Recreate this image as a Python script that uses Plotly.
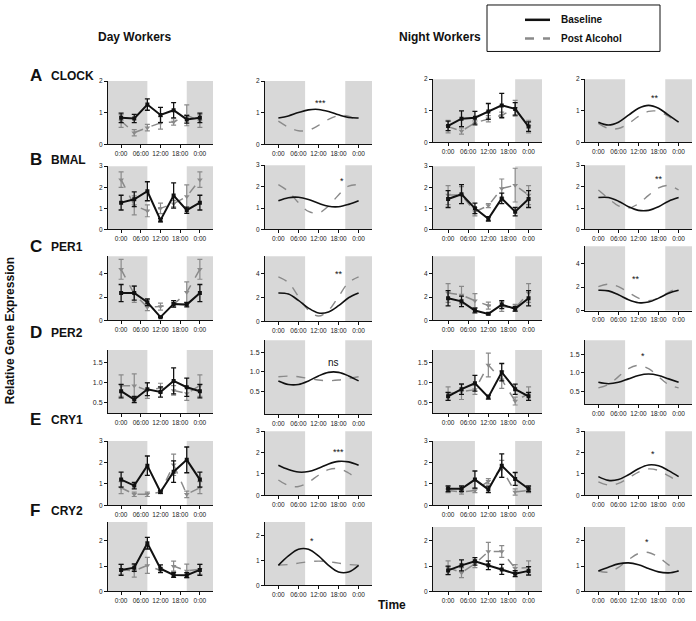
import plotly.graph_objects as go

W, H = 696, 621

GENES = ["CLOCK", "BMAL", "PER1", "PER2", "CRY1", "CRY2"]
LETTERS = ["A", "B", "C", "D", "E", "F"]
HOURS_RAW = [0, 4, 8, 12, 16, 20, 24]
HOURS_FIT = [0, 3, 6, 9, 12, 15, 18, 21, 24]
X_TICKS = [0, 6, 12, 18, 24]
X_TICK_LABELS = ["0:00", "06:00", "12:00", "18:00", "0:00"]
Y_TICKS = [[0, 1, 2], [0, 1, 2, 3], [0, 2, 4], [0.5, 1.0, 1.5], [0, 1, 2, 3], [0, 1, 2]]
Y_TICK_LABELS = [["0", "1", "2"], ["0", "1", "2", "3"], ["0", "2", "4"],
                 ["0.5", "1.0", "1.5"], ["0", "1", "2", "3"], ["0", "1", "2"]]
DARK_START, DARK_END = 8, 20

# ---- Day workers, measured means and SEM (CLOCK, BMAL, PER1, PER2, CRY1, CRY2)
day_base_mean = [
    [0.84, 0.82, 1.26, 0.93, 1.08, 0.79, 0.84],
    [1.27, 1.43, 1.81, 0.44, 1.61, 0.91, 1.27],
    [2.34, 2.34, 1.55, 0.28, 1.41, 1.35, 2.34],
    [0.78, 0.57, 0.83, 0.76, 1.04, 0.88, 0.78],
    [1.20, 0.92, 1.85, 0.62, 1.57, 2.12, 1.20],
    [0.85, 0.94, 1.91, 0.90, 0.65, 0.64, 0.85],
]
day_base_sem = [
    [0.15, 0.13, 0.18, 0.24, 0.24, 0.12, 0.15],
    [0.35, 0.35, 0.45, 0.08, 0.60, 0.15, 0.35],
    [0.73, 0.60, 0.28, 0.05, 0.28, 0.20, 0.73],
    [0.17, 0.08, 0.16, 0.13, 0.33, 0.23, 0.17],
    [0.35, 0.15, 0.45, 0.05, 0.50, 0.60, 0.35],
    [0.22, 0.15, 0.23, 0.15, 0.10, 0.10, 0.22],
]
day_post_mean = [
    [0.74, 0.37, 0.53, 0.68, 0.71, 0.92, 0.74],
    [2.36, 1.14, 0.88, 1.00, 1.22, 1.56, 2.36],
    [4.37, 2.25, 1.13, 1.18, 1.35, 2.40, 4.37],
    [0.92, 0.92, 0.80, 0.86, 0.80, 0.72, 0.92],
    [0.82, 0.51, 0.51, 0.62, 1.89, 0.51, 0.82],
    [0.87, 0.81, 1.03, 0.83, 1.00, 0.81, 0.87],
]
day_post_sem = [
    [0.20, 0.10, 0.10, 0.20, 0.10, 0.33, 0.20],
    [0.37, 0.45, 0.28, 0.25, 0.15, 0.55, 0.37],
    [0.85, 0.70, 0.30, 0.30, 0.20, 0.90, 0.85],
    [0.27, 0.30, 0.20, 0.12, 0.12, 0.17, 0.27],
    [0.28, 0.10, 0.10, 0.08, 0.50, 0.15, 0.28],
    [0.20, 0.25, 0.32, 0.10, 0.20, 0.27, 0.20],
]

# ---- Night workers, measured means and SEM
night_base_mean = [
    [0.52, 0.75, 0.78, 0.98, 1.17, 1.06, 0.50],
    [1.44, 1.67, 1.00, 0.50, 1.47, 0.84, 1.44],
    [1.89, 1.63, 0.85, 0.56, 1.35, 0.99, 1.89],
    [0.65, 0.83, 0.98, 0.63, 1.26, 0.83, 0.65],
    [0.77, 0.77, 1.20, 0.74, 1.85, 1.23, 0.77],
    [0.83, 1.03, 1.19, 1.03, 0.87, 0.70, 0.81],
]
night_base_sem = [
    [0.15, 0.25, 0.20, 0.25, 0.38, 0.20, 0.15],
    [0.40, 0.45, 0.25, 0.10, 0.25, 0.20, 0.40],
    [0.65, 0.45, 0.20, 0.08, 0.35, 0.20, 0.65],
    [0.10, 0.13, 0.20, 0.05, 0.22, 0.13, 0.10],
    [0.13, 0.13, 0.40, 0.15, 0.55, 0.30, 0.13],
    [0.17, 0.22, 0.15, 0.17, 0.20, 0.12, 0.17],
]
night_post_mean = [
    [0.50, 0.36, 0.62, 0.75, 0.86, 1.08, 0.50],
    [1.63, 1.63, 0.84, 1.13, 1.94, 2.10, 1.63],
    [2.34, 2.17, 1.69, 1.27, 1.18, 1.07, 2.34],
    [0.72, 0.77, 0.82, 1.44, 1.07, 0.53, 0.72],
    [0.69, 0.62, 0.69, 1.12, 1.70, 0.62, 0.69],
    [0.94, 0.74, 1.09, 1.58, 1.58, 0.91, 0.94],
]
night_post_sem = [
    [0.20, 0.10, 0.08, 0.10, 0.10, 0.25, 0.20],
    [0.45, 0.40, 0.20, 0.10, 0.45, 0.80, 0.45],
    [0.80, 0.75, 0.60, 0.30, 0.40, 0.30, 0.80],
    [0.17, 0.20, 0.12, 0.30, 0.22, 0.10, 0.17],
    [0.10, 0.10, 0.10, 0.12, 0.40, 0.15, 0.10],
    [0.27, 0.20, 0.15, 0.36, 0.23, 0.15, 0.27],
]

# ---- Cosinor fit curves at 3-hour steps
day_base_fit = [
    [0.835, 0.90, 1.006, 1.091, 1.105, 1.04, 0.934, 0.849, 0.835],
    [1.34, 1.48, 1.50, 1.40, 1.22, 1.08, 1.06, 1.17, 1.34],
    [2.39, 2.30, 1.77, 1.12, 0.71, 0.80, 1.32, 1.99, 2.39],
    [0.765, 0.673, 0.673, 0.765, 0.895, 0.987, 0.987, 0.895, 0.765],
    [1.41, 1.21, 1.09, 1.115, 1.27, 1.47, 1.59, 1.565, 1.41],
    [0.81, 1.19, 1.46, 1.46, 1.19, 0.81, 0.54, 0.54, 0.81],
]
day_post_fit = [
    [0.735, 0.545, 0.43, 0.45, 0.60, 0.79, 0.91, 0.89, 0.735],
    [2.09, 1.77, 1.25, 0.84, 0.77, 1.09, 1.61, 2.02, 2.09],
    [3.75, 3.27, 2.10, 0.93, 0.45, 0.93, 2.10, 3.27, 3.75],
    [0.872, 0.89, 0.872, 0.83, 0.788, 0.77, 0.788, 0.83, 0.872],
    [0.72, 0.46, 0.415, 0.615, 0.94, 1.20, 1.245, 1.045, 0.72],
    [0.82, 0.843, 0.90, 0.957, 0.98, 0.957, 0.90, 0.843, 0.82],
]
night_base_fit = [
    [0.64, 0.55, 0.64, 0.86, 1.08, 1.17, 1.08, 0.86, 0.64],
    [1.49, 1.49, 1.32, 1.06, 0.89, 0.89, 1.06, 1.32, 1.49],
    [1.73, 1.68, 1.34, 0.925, 0.67, 0.72, 1.06, 1.475, 1.73],
    [0.748, 0.71, 0.748, 0.84, 0.932, 0.97, 0.932, 0.84, 0.748],
    [0.875, 0.70, 0.74, 0.964, 1.245, 1.42, 1.38, 1.156, 0.875],
    [0.808, 0.956, 1.089, 1.128, 1.052, 0.904, 0.771, 0.732, 0.808],
]
night_post_fit = [
    [0.60, 0.44, 0.44, 0.60, 0.82, 0.98, 0.98, 0.82, 0.60],
    [1.84, 1.45, 1.10, 0.995, 1.20, 1.59, 1.94, 2.05, 1.84],
    [2.04, 2.25, 2.04, 1.55, 1.06, 0.85, 1.06, 1.55, 2.04],
    [0.60, 0.688, 0.90, 1.112, 1.20, 1.112, 0.90, 0.688, 0.60],
    [0.63, 0.483, 0.559, 0.81, 1.09, 1.237, 1.161, 0.91, 0.63],
    [0.80, 0.76, 0.95, 1.25, 1.50, 1.54, 1.35, 1.05, 0.80],
]

SIG_DAY = ["***", "*", "**", "ns", "***", "*"]
SIG_NIGHT = ["**", "**", "**", "*", "*", "*"]

# ---------------- layout geometry (pixels) ----------------
SIG_DAY_POS = [(12.6, 1.31), (19, 2.26), (18, 4.0), (16.5, 1.23), (18, 2.03), (10.2, 1.8)]
SIG_NIGHT_POS = [(17, 1.40), (18, 2.35), (11.4, 2.7), (13.2, 1.45), (16.2, 1.94), (14.4, 1.96)]
COL_X = [(108, 213, -4, 28), (265, 372, -4, 28), (433, 542, -4.5, 28), (585, 692, -4, 28)]
PANEL_Y = [
    [(78, 142, 0, 2), (78, 142, 0, 2), (76, 140, 0, 2), (76, 140, 0, 2)],
    [(164, 228, 0, 3), (163, 228, 0, 3), (164, 228, 0, 3), (163, 228, 0, 3)],
    [(255, 320, 0, 5.5), (255, 321, 0, 5.5), (255, 320, 0, 5.5), (245, 310, 0, 5.5)],
    [(350, 414, 0.22, 1.82), (340, 415, -0.1, 1.82), (350, 414, 0.22, 1.82), (340, 405, 0.16, 1.87)],
    [(442, 507, 0, 3), (432, 497, 0, 3), (442, 507, 0, 3), (432, 497, 0, 3)],
    [(524, 594, 0, 2.75), (524, 588, 0, 2.56), (529, 594, 0, 2.55), (529, 594, 0, 2.55)],
]
ROW_LABEL_Y = [72, 157, 245, 332, 420, 512]

BLACK = "#111111"
GREY = "#8a8a8a"
SHADE = "#d8d8d8"
FONT = "Liberation Sans, Arial, sans-serif"

fig = go.Figure()
layout = {}
shapes = []
annotations = []

k = 0
for r in range(6):
    for c in range(4):
        k += 1
        xn = "x" if k == 1 else f"x{k}"
        yn = "y" if k == 1 else f"y{k}"
        x0, x1, xmin, xmax = COL_X[c]
        top, bot, ymin, ymax = PANEL_Y[r][c]
        layout["xaxis" if k == 1 else f"xaxis{k}"] = dict(
            domain=[x0 / W, x1 / W], range=[xmin, xmax], anchor=yn,
            tickvals=X_TICKS, ticktext=X_TICK_LABELS,
            showline=True, linecolor=BLACK, linewidth=1, ticks="outside",
            ticklen=3, tickwidth=1, tickcolor=BLACK,
            tickfont=dict(size=6.5, color="#222", family=FONT),
            showgrid=False, zeroline=False, fixedrange=True)
        layout["yaxis" if k == 1 else f"yaxis{k}"] = dict(
            domain=[1 - bot / H, 1 - top / H], range=[ymin, ymax], anchor=xn,
            tickvals=Y_TICKS[r], ticktext=Y_TICK_LABELS[r],
            showline=True, linecolor=BLACK, linewidth=1, ticks="outside",
            ticklen=3, tickwidth=1, tickcolor=BLACK,
            tickfont=dict(size=7 if r == 3 else 6.5, color="#222", family=FONT),
            showgrid=False, zeroline=False, fixedrange=True)
        for s0, s1 in ((xmin, DARK_START), (DARK_END, xmax)):
            shapes.append(dict(type="rect", xref=xn, yref=f"{yn} domain",
                               x0=s0, x1=s1, y0=0, y1=1, fillcolor=SHADE,
                               line=dict(width=0), layer="below"))

        if c in (0, 2):
            if c == 0:
                bm, bs, pm, ps = day_base_mean[r], day_base_sem[r], day_post_mean[r], day_post_sem[r]
            else:
                bm, bs, pm, ps = night_base_mean[r], night_base_sem[r], night_post_mean[r], night_post_sem[r]
            fig.add_trace(go.Scatter(
                x=HOURS_RAW, y=pm, xaxis=xn, yaxis=yn, mode="lines+markers",
                line=dict(color=GREY, width=1.5, dash="dash"),
                marker=dict(symbol="triangle-down", size=5, color=GREY),
                error_y=dict(type="data", array=ps, color=GREY, thickness=1.2, width=2.5),
                showlegend=False, hoverinfo="skip"))
            fig.add_trace(go.Scatter(
                x=HOURS_RAW, y=bm, xaxis=xn, yaxis=yn, mode="lines+markers",
                line=dict(color=BLACK, width=2),
                marker=dict(symbol="square", size=4, color=BLACK),
                error_y=dict(type="data", array=bs, color=BLACK, thickness=1.3, width=2.5),
                showlegend=False, hoverinfo="skip"))
        else:
            if c == 1:
                bf, pf = day_base_fit[r], day_post_fit[r]
                sig, (sx, sy) = SIG_DAY[r], SIG_DAY_POS[r]
            else:
                bf, pf = night_base_fit[r], night_post_fit[r]
                sig, (sx, sy) = SIG_NIGHT[r], SIG_NIGHT_POS[r]
            fig.add_trace(go.Scatter(
                x=HOURS_FIT, y=pf, xaxis=xn, yaxis=yn, mode="lines",
                line=dict(color=GREY, width=1.4, dash="dash", shape="spline"),
                showlegend=False, hoverinfo="skip"))
            fig.add_trace(go.Scatter(
                x=HOURS_FIT, y=bf, xaxis=xn, yaxis=yn, mode="lines",
                line=dict(color=BLACK, width=1.6, shape="spline"),
                showlegend=False, hoverinfo="skip"))
            annotations.append(dict(
                x=sx, y=sy, xref=xn, yref=yn, text=sig, showarrow=False,
                font=dict(size=10 if sig == "ns" else 9, color=BLACK, family=FONT)))

# Row labels
for r in range(6):
    yy = 1 - ROW_LABEL_Y[r] / H
    annotations.append(dict(x=28 / W, y=yy, xref="paper", yref="paper", xanchor="left",
                            yanchor="middle", showarrow=False, text=f"<b>{LETTERS[r]}</b>",
                            font=dict(size=17, color=BLACK, family=FONT)))
    annotations.append(dict(x=49 / W, y=yy - 1 / H, xref="paper", yref="paper", xanchor="left",
                            yanchor="middle", showarrow=False, text=f"<b>{GENES[r]}</b>",
                            font=dict(size=12, color=BLACK, family=FONT)))

# Group titles
annotations.append(dict(x=96 / W, y=1 - 33 / H, xref="paper", yref="paper", xanchor="left",
                        yanchor="middle", showarrow=False, text="<b>Day Workers</b>",
                        font=dict(size=12, color=BLACK, family=FONT)))
annotations.append(dict(x=397 / W, y=1 - 33 / H, xref="paper", yref="paper", xanchor="left",
                        yanchor="middle", showarrow=False, text="<b>Night Workers</b>",
                        font=dict(size=12, color=BLACK, family=FONT)))

# Axis titles
annotations.append(dict(x=10 / W, y=1 - 331 / H, xref="paper", yref="paper", xanchor="center",
                        yanchor="middle", showarrow=False, textangle=-90,
                        text="<b>Relative Gene Expression</b>",
                        font=dict(size=12, color=BLACK, family=FONT)))
annotations.append(dict(x=392 / W, y=1 - 608 / H, xref="paper", yref="paper", xanchor="center",
                        yanchor="middle", showarrow=False, text="<b>Time</b>",
                        font=dict(size=12, color=BLACK, family=FONT)))

# Legend box (drawn)
shapes.append(dict(type="rect", xref="paper", yref="paper", x0=487 / W, x1=660 / W,
                   y0=1 - 48 / H, y1=1 - 1 / H, line=dict(color=BLACK, width=1),
                   fillcolor="white"))
shapes.append(dict(type="line", xref="paper", yref="paper", x0=525 / W, x1=550 / W,
                   y0=1 - 16 / H, y1=1 - 16 / H, line=dict(color=BLACK, width=2.5)))
shapes.append(dict(type="line", xref="paper", yref="paper", x0=525 / W, x1=550 / W,
                   y0=1 - 35 / H, y1=1 - 35 / H, line=dict(color=GREY, width=2.5, dash="dash")))
annotations.append(dict(x=559 / W, y=1 - 16 / H, xref="paper", yref="paper", xanchor="left",
                        yanchor="middle", showarrow=False, text="<b>Baseline</b>",
                        font=dict(size=10, color=BLACK, family=FONT)))
annotations.append(dict(x=559 / W, y=1 - 35 / H, xref="paper", yref="paper", xanchor="left",
                        yanchor="middle", showarrow=False, text="<b>Post Alcohol</b>",
                        font=dict(size=10, color=BLACK, family=FONT)))

fig.update_layout(
    width=W, height=H, margin=dict(l=0, r=0, t=0, b=0),
    paper_bgcolor="white", plot_bgcolor="white",
    font=dict(family=FONT, color=BLACK),
    shapes=shapes, annotations=annotations, showlegend=False,
    **layout)

fig.write_html("out.html", config={"displayModeBar": False},
               post_script="document.body.style.margin='0';document.body.style.overflow='hidden';")
